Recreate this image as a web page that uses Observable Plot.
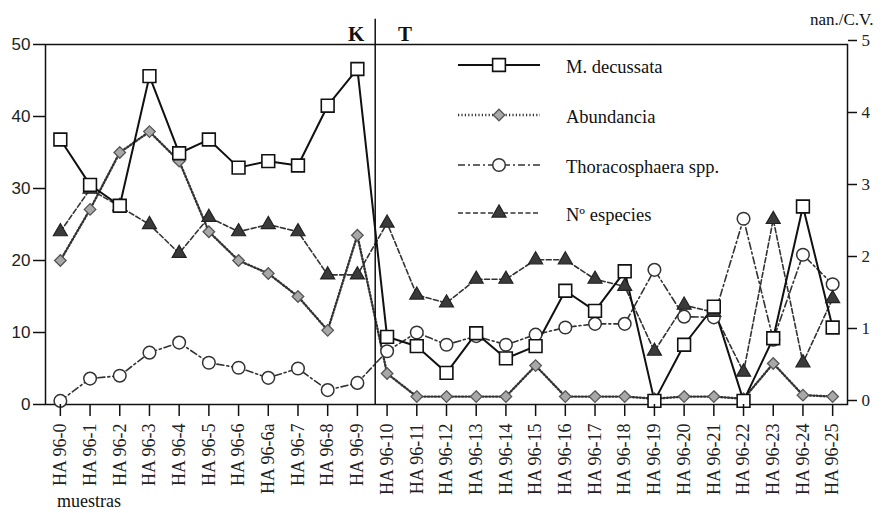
<!DOCTYPE html>
<html><head><meta charset="utf-8">
<script src="https://cdn.jsdelivr.net/npm/d3@7"></script>
<script src="https://cdn.jsdelivr.net/npm/@observablehq/plot@0.6"></script>
<style>body{margin:0;background:#fff}</style>
</head><body><div id="chart"></div>
<script>
const samples = ["HA 96-0","HA 96-1","HA 96-2","HA 96-3","HA 96-4","HA 96-5","HA 96-6","HA 96-6a","HA 96-7","HA 96-8","HA 96-9","HA 96-10","HA 96-11","HA 96-12","HA 96-13","HA 96-14","HA 96-15","HA 96-16","HA 96-17","HA 96-18","HA 96-19","HA 96-20","HA 96-21","HA 96-22","HA 96-23","HA 96-24","HA 96-25"];
const decussata = [36.8,30.5,27.6,45.6,34.9,36.8,32.9,33.8,33.2,41.5,46.6,9.4,8.1,4.4,9.9,6.4,8.1,15.8,13.0,18.5,0.5,8.3,13.6,0.5,9.2,27.5,10.7];
const abundancia = [20,27.1,35,37.9,33.8,24,20,18.2,15,10.3,23.5,4.3,1.1,1.1,1.1,1.1,5.4,1.1,1.1,1.1,0.8,1.1,1.1,0.8,5.7,1.3,1.1];
const thoraco = [0.5,3.6,4,7.2,8.6,5.8,5.1,3.7,5,2,3,7.4,10,8.3,9.5,8.3,9.7,10.7,11.2,11.2,18.7,12.2,12.1,25.8,9,20.8,16.7];
const especies = [24,29.9,27.5,25,21,26,24,25,24,18,18,25.2,15.2,14.1,17.4,17.4,20.1,20.1,17.4,16.4,7.4,13.8,12.8,4.5,25.7,5.8,14.7];
const leftTicks = [0,10,20,30,40,50];
const rightTickLabels = [0,1,2,3,4,5];
const ktBoundary = 10.6;
const seriesNames = ["M. decussata","Abundancia","Thoracosphaera spp.","Nº especies"];

const styles = [
  {line:{stroke:"#111",strokeWidth:2}, dot:{symbol:"square",r:7.2,fill:"white",stroke:"#111",strokeWidth:1.6}},
  {line:{stroke:"#333",strokeWidth:2.4,strokeDasharray:"1.2,2.2"}, dot:{symbol:"diamond2",r:5.2,fill:"#a8a8a8",stroke:"#555",strokeWidth:1.3}},
  {line:{stroke:"#333",strokeWidth:1.6,strokeDasharray:"7,3,2,3"}, dot:{symbol:"circle",r:6.3,fill:"white",stroke:"#333",strokeWidth:1.5}},
  {line:{stroke:"#333",strokeWidth:1.6,strokeDasharray:"5,2.5"}, dot:{symbol:"triangle",r:5.2,fill:"#3a3a3a",stroke:"#222",strokeWidth:1.2}}
];
const seriesValues = [decussata, abundancia, thoraco, especies];
const tables = seriesValues.map(vals => vals.map((v,i)=>({i, v})));

const marks = [];
[2,3,1,0].forEach(k => marks.push(Plot.line(tables[k], {x:"i", y:"v", ...styles[k].line})));
marks.push(Plot.ruleX([ktBoundary], {y1:0, y2:53.5, stroke:"#111", strokeWidth:1.5}));
marks.push(Plot.frame({stroke:"#111", strokeWidth:1.5}));
[2,1,3,0].forEach(k => marks.push(Plot.dot(tables[k], {x:"i", y:"v", ...styles[k].dot})));
marks.push(Plot.axisY({anchor:"left", label:null, ticks:leftTicks, tickSize:12, tickPadding:3, fontSize:17, fontFamily:"Liberation Sans, Arial, sans-serif", stroke:"#111", strokeWidth:1.5, fill:"#222"}));
marks.push(Plot.axisY({anchor:"right", label:null, ticks:leftTicks, tickFormat:d=>rightTickLabels[leftTicks.indexOf(d)], tickSize:9, tickPadding:5, fontSize:17, dy:-4, fontFamily:"Liberation Serif, Times New Roman, serif", stroke:"#111", strokeWidth:1.5, fill:"#222"}));
marks.push(Plot.axisX({label:null, ticks:d3.range(samples.length), tickFormat:i=>samples[i], tickRotate:-90, tickSize:12, tickPadding:7, fontSize:18, fontFamily:"Liberation Serif, Times New Roman, serif", stroke:"#111", strokeWidth:1.5, fill:"#222"}));

const chart = Plot.plot({
  width:885, height:513,
  marginTop:44, marginBottom:109, marginLeft:45, marginRight:38,
  x:{domain:[-0.5, samples.length-0.5]},
  y:{domain:[0,50]},
  style:{background:"white", overflow:"visible"},
  marks
});
document.getElementById("chart").appendChild(chart);

const svg = d3.select(chart);
const serif = "Liberation Serif, Times New Roman, serif";
function txt(x,y,s,size,bold){
  return svg.append("text").attr("x",x).attr("y",y).attr("text-anchor","start").attr("font-family",serif)
    .attr("font-weight",bold?"bold":"normal").attr("font-size",size).attr("fill","#111").text(s);
}
txt(348,41,"K",21,true);
txt(398,41,"T",21,true);
txt(810,25,"nan./C.V.",17,false);
txt(57,507,"muestras",18,false);

const symMap = {square:d3.symbolSquare, diamond2:d3.symbolDiamond2, circle:d3.symbolCircle, triangle:d3.symbolTriangle};
const legendY = [65,115,165,213];
seriesNames.forEach((name,k) => {
  const y = legendY[k], s = styles[k];
  const g = svg.append("g");
  const ln = g.append("line").attr("x1",458).attr("x2",540).attr("y1",y).attr("y2",y).attr("stroke",s.line.stroke).attr("stroke-width",s.line.strokeWidth);
  if (s.line.strokeDasharray) ln.attr("stroke-dasharray",s.line.strokeDasharray);
  const r = s.dot.r;
  g.append("path").attr("transform",`translate(499,${y})`).attr("d",d3.symbol(symMap[s.dot.symbol], Math.PI*r*r)())
    .attr("fill",s.dot.fill).attr("stroke",s.dot.stroke).attr("stroke-width",s.dot.strokeWidth);
  txt(566,y+8,name,18.5,false);
});
</script>
</body></html>
